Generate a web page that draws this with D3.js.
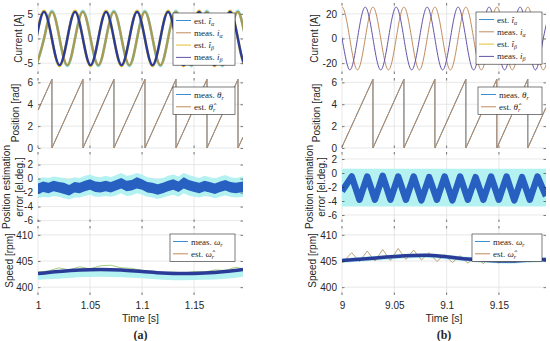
<!DOCTYPE html>
<html>
<head>
<meta charset="utf-8">
<script src="https://cdn.jsdelivr.net/npm/d3@7"></script>
<style>
  body { margin: 0; background: #fff; }
  svg text { font-family: "Liberation Sans", Arial, sans-serif; fill: #262626; }
  .leg text { font-family: "Liberation Serif", "DejaVu Serif", serif; }
</style>
</head>
<body>
<svg id="chart" width="550" height="341"></svg>
<script>
// ---------- data ----------
// (a) left column, t = 1 ... 1.197 s
const tCurL = [0.9984, 1.0058, 1.0133, 1.0207, 1.0282, 1.0356, 1.0431, 1.0505, 1.0580, 1.0654, 1.0729, 1.0803, 1.0878, 1.0952, 1.1027, 1.1101, 1.1176, 1.1250, 1.1325, 1.1399, 1.1474, 1.1548, 1.1623, 1.1697, 1.1772, 1.1846, 1.1921, 1.1995, 1.2070];
const iAlphaMeasL = [-5.4, 0, 5.4, 0, -5.4, 0, 5.4, 0, -5.4, 0, 5.4, 0, -5.4, 0, 5.4, 0, -5.4, 0, 5.4, 0, -5.4, 0, 5.4, 0, -5.4, 0, 5.4, 0, -5.4];
const iAlphaEstL  = [-5.6, 0, 5.6, 0, -5.6, 0, 5.6, 0, -5.6, 0, 5.6, 0, -5.6, 0, 5.6, 0, -5.6, 0, 5.6, 0, -5.6, 0, 5.6, 0, -5.6, 0, 5.6, 0, -5.6];
const iBetaMeasL  = [0, 5.4, 0, -5.4, 0, 5.4, 0, -5.4, 0, 5.4, 0, -5.4, 0, 5.4, 0, -5.4, 0, 5.4, 0, -5.4, 0, 5.4, 0, -5.4, 0, 5.4, 0, -5.4, 0];
const iBetaEstL   = [0, 5.6, 0, -5.6, 0, 5.6, 0, -5.6, 0, 5.6, 0, -5.6, 0, 5.6, 0, -5.6, 0, 5.6, 0, -5.6, 0, 5.6, 0, -5.6, 0, 5.6, 0, -5.6, 0];

const tThL = [1.0, 1.0134, 1.0134, 1.0432, 1.0432, 1.0730, 1.0730, 1.1028, 1.1028, 1.1326, 1.1326, 1.1624, 1.1624, 1.1922, 1.1922, 1.197];
const thetaL = [3.45, 6.28, 0, 6.28, 0, 6.28, 0, 6.28, 0, 6.28, 0, 6.28, 0, 6.28, 0, 1.0];

const tErrL = [1.0, 1.005, 1.01, 1.015, 1.02, 1.025, 1.03, 1.035, 1.04, 1.045, 1.05, 1.055, 1.06, 1.065, 1.07, 1.075, 1.08, 1.085, 1.09, 1.095, 1.10, 1.105, 1.11, 1.115, 1.12, 1.125, 1.13, 1.135, 1.14, 1.145, 1.15, 1.155, 1.16, 1.165, 1.17, 1.175, 1.18, 1.185, 1.19, 1.197];
const errHiL = [-0.7, -0.4, -0.6, -0.3, -0.5, -0.6, -0.9, -0.5, -0.6, -0.3, -0.1, -0.4, -0.5, -0.3, -0.5, -0.2, 0.1, -0.3, -0.2, 0.2, -0.1, -0.5, -0.6, -0.8, -0.6, -0.3, -0.1, -0.4, 0.2, -0.2, -0.4, -0.6, -0.3, -0.5, -0.7, -0.4, -0.2, -0.5, -0.6, -0.4];
const errLoL = [-2.2, -1.9, -2.1, -1.8, -2.0, -2.2, -2.4, -2.0, -2.1, -1.8, -1.6, -1.9, -2.0, -1.8, -2.0, -1.7, -1.4, -1.8, -1.7, -1.4, -1.6, -2.0, -2.1, -2.3, -2.1, -1.8, -1.6, -1.9, -1.4, -1.7, -1.9, -2.1, -1.8, -2.0, -2.2, -1.9, -1.7, -2.0, -2.1, -1.9];
const errBgHiL = [0.0, 0.2, 0.1, 0.3, 0.2, 0.1, -0.1, 0.2, 0.1, 0.4, 0.6, 0.3, 0.2, 0.4, 0.2, 0.5, 0.8, 0.4, 0.5, 0.8, 0.6, 0.2, 0.1, -0.1, 0.1, 0.4, 0.6, 0.3, 0.8, 0.5, 0.3, 0.1, 0.4, 0.2, 0.0, 0.3, 0.5, 0.2, 0.1, 0.3];
const errBgLoL = [-2.8, -2.6, -2.7, -2.5, -2.6, -2.8, -3.0, -2.7, -2.7, -2.5, -2.3, -2.6, -2.6, -2.5, -2.6, -2.4, -2.1, -2.5, -2.4, -2.1, -2.3, -2.6, -2.7, -2.9, -2.7, -2.5, -2.3, -2.6, -2.1, -2.4, -2.6, -2.7, -2.5, -2.6, -2.8, -2.6, -2.4, -2.6, -2.7, -2.6];

const tSpdL = [1.0, 1.02, 1.04, 1.06, 1.08, 1.10, 1.12, 1.14, 1.16, 1.18, 1.197];
const wMeasL = [402.6, 403.0, 403.3, 403.4, 403.3, 403.0, 402.7, 402.6, 402.7, 403.0, 403.4];
const wBgHiL = [402.7, 403.1, 403.4, 403.5, 403.4, 403.1, 402.8, 402.7, 402.8, 403.1, 403.5];
const wBgLoL = [401.4, 401.6, 401.9, 402.0, 401.9, 401.7, 401.4, 401.3, 401.4, 401.6, 402.0];
const tWEstL = [1.0, 1.01, 1.02, 1.03, 1.04, 1.05, 1.06, 1.07, 1.08, 1.09, 1.10, 1.11, 1.12, 1.13, 1.14, 1.15, 1.16, 1.17, 1.18, 1.19, 1.197];
const wEstL = [402.9, 403.1, 403.7, 403.3, 403.9, 403.5, 404.1, 404.2, 403.7, 403.6, 403.2, 403.0, 402.8, 402.9, 402.7, 403.0, 402.9, 403.3, 403.2, 403.8, 403.5];

// (b) right column, t = 9 ... 9.195 s
const tCurR = [8.9926, 9.0000, 9.0074, 9.0148, 9.0222, 9.0296, 9.0370, 9.0444, 9.0518, 9.0592, 9.0666, 9.0740, 9.0814, 9.0888, 9.0962, 9.1036, 9.1110, 9.1184, 9.1258, 9.1332, 9.1406, 9.1480, 9.1554, 9.1628, 9.1702, 9.1776, 9.1850, 9.1924, 9.1998];
const iAlphaMeasR = [0, 25.5, 0, -25.5, 0, 25.5, 0, -25.5, 0, 25.5, 0, -25.5, 0, 25.5, 0, -25.5, 0, 25.5, 0, -25.5, 0, 25.5, 0, -25.5, 0, 25.5, 0, -25.5, 0];
const iBetaMeasR  = [25.5, 0, -25.5, 0, 25.5, 0, -25.5, 0, 25.5, 0, -25.5, 0, 25.5, 0, -25.5, 0, 25.5, 0, -25.5, 0, 25.5, 0, -25.5, 0, 25.5, 0, -25.5, 0, 25.5];

const tThR = [9.0, 9.0296, 9.0296, 9.0592, 9.0592, 9.0888, 9.0888, 9.1184, 9.1184, 9.1480, 9.1480, 9.1776, 9.1776, 9.195];
const thetaR = [0.1, 6.28, 0, 6.28, 0, 6.28, 0, 6.28, 0, 6.28, 0, 6.28, 0, 3.7];

const tErrR = [9.0, 9.0093, 9.0167, 9.0241, 9.0315, 9.0389, 9.0463, 9.0537, 9.0611, 9.0685, 9.0759, 9.0833, 9.0907, 9.0981, 9.1055, 9.1129, 9.1203, 9.1277, 9.1351, 9.1425, 9.1499, 9.1573, 9.1647, 9.1721, 9.1795, 9.1869, 9.195];
const errR = [-2.6, -0.5, -3.8, -0.5, -3.8, -0.4, -3.8, -0.5, -3.8, -0.5, -3.9, -0.6, -3.8, -0.5, -3.9, -0.5, -3.8, -0.6, -3.8, -0.5, -3.8, -0.5, -3.9, -0.6, -3.8, -0.5, -3.3];

const tSpdR = [9.0, 9.02, 9.04, 9.06, 9.08, 9.10, 9.12, 9.14, 9.16, 9.18, 9.195];
const wMeasR = [405.1, 405.4, 405.7, 406.0, 406.1, 405.8, 405.4, 405.1, 405.0, 405.2, 405.3];
const wBgHiR = [405.5, 405.8, 406.1, 406.4, 406.5, 406.2, 405.8, 405.5, 405.4, 405.6, 405.7];
const wBgLoR = [404.6, 404.9, 405.2, 405.5, 405.6, 405.3, 404.9, 404.6, 404.5, 404.7, 404.8];
const wEstR = [404.6, 406.6, 404.9, 406.9, 405.0, 407.2, 405.1, 407.4, 405.3, 407.1, 405.2, 406.6, 404.9, 406.2, 404.7, 406.0, 404.6, 405.8, 404.5, 405.9, 404.6, 406.0, 404.7, 406.1, 404.8, 406.1, 405.0];

const xTicksL = [1, 1.05, 1.1, 1.15];
const xTicksR = [9, 9.05, 9.1, 9.15];

// ---------- layout ----------
const svg = d3.select("#chart");
const rows = [[3, 74], [78, 148], [152, 222], [226, 295]];
const cols = [{ x0: 38, x1: 243, dom: [1, 1.197], ticks: xTicksL, cap: "(a)" },
              { x0: 342, x1: 546, dom: [9, 9.195], ticks: xTicksR, cap: "(b)" }];

const C = {
  blue: "#3C8FD0", orange: "#C08A5C", yellow: "#E2C233", purple: "#6252A8",
  navy: "#2B3C98", olive: "#A89A50", cyan: "#B4F2F2", errBlue: "#2760C0", green: "#8CC05A"
};

let clipId = 0;
function panel(ci, ri, yDom, yTicks) {
  const c = cols[ci], r = rows[ri];
  const x = d3.scaleLinear().domain(c.dom).range([c.x0, c.x1]);
  const y = d3.scaleLinear().domain(yDom).range([r[1], r[0]]);
  const g = svg.append("g");
  // grid
  g.append("g").selectAll("line").data(c.ticks).enter().append("line")
    .attr("x1", d => x(d)).attr("x2", d => x(d)).attr("y1", r[0]).attr("y2", r[1])
    .attr("stroke", "#dedede").attr("stroke-width", 0.7);
  g.append("g").selectAll("line").data(yTicks).enter().append("line")
    .attr("x1", c.x0).attr("x2", c.x1).attr("y1", d => y(d)).attr("y2", d => y(d))
    .attr("stroke", "#dedede").attr("stroke-width", 0.7);
  const id = "clip" + (clipId++);
  svg.append("clipPath").attr("id", id).append("rect")
    .attr("x", c.x0).attr("y", r[0]).attr("width", c.x1 - c.x0).attr("height", r[1] - r[0]);
  const plot = g.append("g").attr("clip-path", `url(#${id})`);
  // y axis (ticks inside, on both sides)
  const ax = g.append("g").attr("transform", `translate(${c.x0},0)`)
    .call(d3.axisLeft(y).tickValues(yTicks).tickSize(-2.5).tickPadding(5).tickFormat(d => String(d)));
  ax.select(".domain").remove();
  ax.selectAll("line").attr("stroke", "#262626").attr("stroke-width", 0.6);
  ax.selectAll("text").attr("font-size", 10).attr("fill", "#262626");
  const axr = g.append("g").attr("transform", `translate(${c.x1},0)`)
    .call(d3.axisRight(y).tickValues(yTicks).tickSize(-2.5).tickFormat(""));
  axr.select(".domain").remove();
  axr.selectAll("line").attr("stroke", "#262626").attr("stroke-width", 0.6);
  // x ticks inside top and bottom
  [r[0], r[1]].forEach((yy, k) => {
    g.append("g").selectAll("line").data(c.ticks).enter().append("line")
      .attr("x1", d => x(d)).attr("x2", d => x(d))
      .attr("y1", yy).attr("y2", k === 0 ? yy + 2.5 : yy - 2.5)
      .attr("stroke", "#262626").attr("stroke-width", 0.6);
  });
  return { x, y, plot, g, c, r };
}

function linePath(p, xs, ys, color, width, curve) {
  const ln = d3.line().x(d => p.x(d[0])).y(d => p.y(d[1])).curve(curve || d3.curveLinear);
  p.plot.append("path").datum(xs.map((t, i) => [t, ys[i]]))
    .attr("d", ln).attr("fill", "none").attr("stroke", color).attr("stroke-width", width)
    .attr("stroke-linejoin", "round");
}
function bandPath(p, xs, lo, hi, color, curve) {
  const ar = d3.area().x(d => p.x(d[0])).y0(d => p.y(d[1])).y1(d => p.y(d[2])).curve(curve || d3.curveLinear);
  p.plot.append("path").datum(xs.map((t, i) => [t, lo[i], hi[i]]))
    .attr("d", ar).attr("fill", color);
}

function ylabel(p, lines, xpos) {
  const cy = (p.r[0] + p.r[1]) / 2;
  lines.forEach((s, i) => {
    svg.append("text").attr("transform", `translate(${xpos[i]},${cy}) rotate(-90)`)
      .attr("text-anchor", "middle").attr("font-size", 10).text(s);
  });
}

// legend: entries = [{color, parts:[[text, style]]}]
function legend(bx, by, bw, entries) {
  const lg = svg.append("g").attr("class", "leg");
  const h = entries.length * 12.3 + 3;
  lg.append("rect").attr("x", bx).attr("y", by).attr("width", bw).attr("height", h)
    .attr("fill", "#fff").attr("stroke", "#262626").attr("stroke-width", 0.6);
  entries.forEach((e, i) => {
    const yy = by + 7.5 + i * 12.3;
    lg.append("line").attr("x1", bx + 3).attr("x2", bx + 18).attr("y1", yy).attr("y2", yy)
      .attr("stroke", e.color).attr("stroke-width", 1);
    const t = lg.append("text").attr("x", bx + 21).attr("y", yy + 3).attr("font-size", 9);
    e.parts.forEach(pt => {
      const ts = t.append("tspan").text(pt[0]);
      if (pt[1] === "i") ts.attr("font-style", "italic");
      if (pt[1] === "sub") ts.attr("font-style", "italic").attr("font-size", 6).attr("dy", 2);
    });
  });
}

const curEntries = [
  { color: C.blue,   parts: [["est.  ", ""], ["î", "i"], ["α", "sub"]] },
  { color: C.orange, parts: [["meas.  ", ""], ["i", "i"], ["α", "sub"]] },
  { color: C.yellow, parts: [["est.  ", ""], ["î", "i"], ["β", "sub"]] },
  { color: C.purple, parts: [["meas.  ", ""], ["i", "i"], ["β", "sub"]] }
];
const thEntries = [
  { color: C.blue,   parts: [["meas.  ", ""], ["θ", "i"], ["r", "sub"]] },
  { color: C.orange, parts: [["est.  ", ""], ["θ\u0302", "i"], ["r", "sub"]] }
];
const wEntries = [
  { color: C.blue,   parts: [["meas.  ", ""], ["ω", "i"], ["r", "sub"]] },
  { color: C.orange, parts: [["est.  ", ""], ["ω\u0302", "i"], ["r", "sub"]] }
];

// ---------- (a) ----------
let p = panel(0, 0, [-7.2, 7.2], [-5, 0, 5]);
linePath(p, tCurL, iAlphaEstL, "#8FE3F0", 2.6, d3.curveNatural);
linePath(p, tCurL, iBetaEstL, C.yellow, 2.6, d3.curveNatural);
linePath(p, tCurL, iAlphaMeasL, C.olive, 2.4, d3.curveNatural);
linePath(p, tCurL, iBetaMeasL, C.navy, 2.4, d3.curveNatural);
ylabel(p, ["Current [A]"], [22]);
legend(173, 13, 62, curEntries);

p = panel(0, 1, [0, 6.4], [0, 2, 4, 6]);
linePath(p, tThL, thetaL, C.blue, 1);
linePath(p, tThL, thetaL, C.orange, 1);
ylabel(p, ["Position [rad]"], [19]);
legend(173, 87, 62, thEntries);

p = panel(0, 2, [-6.2, 3.8], [-6, -4, -2, 0, 2]);
bandPath(p, tErrL, errBgLoL, errBgHiL, C.cyan);
bandPath(p, tErrL, errLoL, errHiL, C.errBlue);
ylabel(p, ["Position estimation", "error [el.deg.]"], [10, 23]);

p = panel(0, 3, [398.5, 411.7], [400, 405, 410]);
bandPath(p, tSpdL, wBgLoL, wBgHiL, C.cyan, d3.curveMonotoneX);
linePath(p, tWEstL, wEstL, C.green, 0.8);
linePath(p, tSpdL, wMeasL, C.navy, 3.5, d3.curveMonotoneX);
ylabel(p, ["Speed [rpm]"], [13]);
legend(170, 234, 65, wEntries);

// ---------- (b) ----------
p = panel(1, 0, [-28.8, 28.8], [-20, 0, 20]);
linePath(p, tCurR, iAlphaMeasR, C.orange, 1, d3.curveNatural);
linePath(p, tCurR, iBetaMeasR, C.purple, 1, d3.curveNatural);
ylabel(p, ["Current [A]"], [318]);
legend(476, 12, 66, curEntries);

p = panel(1, 1, [0, 6.4], [0, 2, 4, 6]);
linePath(p, tThR, thetaR, C.blue, 1);
linePath(p, tThR, thetaR, C.orange, 1);
ylabel(p, ["Position [rad]"], [320]);
legend(478, 87, 64, thEntries);

p = panel(1, 2, [-7, 3], [-6, -4, -2, 0, 2]);
bandPath(p, [9.0, 9.195], [-4.8, -4.8], [0.6, 0.6], C.cyan);
linePath(p, tErrR, errR, C.errBlue, 6.5);
ylabel(p, ["Position estimation", "error [el.deg.]"], [313, 325]);

p = panel(1, 3, [398.5, 411.7], [400, 405, 410]);
bandPath(p, tSpdR, wBgLoR, wBgHiR, C.cyan, d3.curveMonotoneX);
linePath(p, tErrR, wEstR, "#B49A6A", 0.9);
linePath(p, tSpdR, wMeasR, C.navy, 3.5, d3.curveMonotoneX);
ylabel(p, ["Speed [rpm]"], [316]);
legend(472, 234, 70, wEntries);

// ---------- x axes & captions ----------
cols.forEach(c => {
  const x = d3.scaleLinear().domain(c.dom).range([c.x0, c.x1]);
  const ax = svg.append("g").attr("transform", `translate(0,${rows[3][1]})`)
    .call(d3.axisBottom(x).tickValues(c.ticks).tickSize(0).tickPadding(7).tickFormat(d => String(d)));
  ax.select(".domain").remove();
  ax.selectAll("text").attr("font-size", 10).attr("fill", "#262626");
  const cx = (c.x0 + c.x1) / 2;
  svg.append("text").attr("x", cx).attr("y", 322).attr("text-anchor", "middle").attr("font-size", 10.5).text("Time [s]");
  svg.append("text").attr("x", cx).attr("y", 339).attr("text-anchor", "middle").attr("font-size", 12)
    .attr("font-weight", "bold").style("font-family", "'Liberation Serif', serif").text(c.cap);
});
</script>
</body>
</html>
